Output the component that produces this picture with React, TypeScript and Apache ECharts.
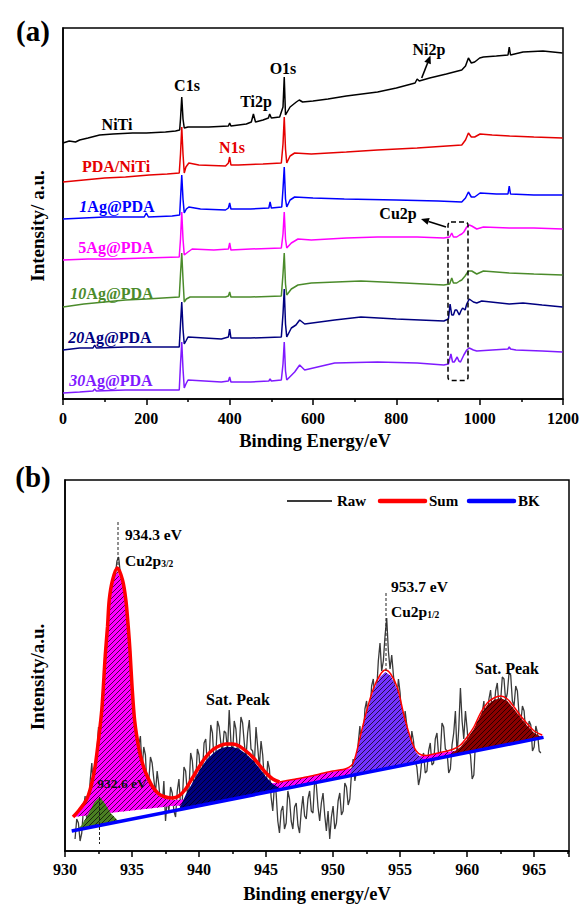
import React, { useEffect, useRef } from 'react';
import * as echarts from 'echarts';

const FONT = "'Liberation Serif', 'Times New Roman', Times, serif";

// ---------------- Panel (a): XPS survey spectra [binding energy (eV), offset intensity (a.u.)]
const surveyNames = ['NiTi', 'PDA/NiTi', '1Ag@PDA', '5Ag@PDA', '10Ag@PDA', '20Ag@PDA', '30Ag@PDA'];
const surveyColors = ['#000000', '#E50000', '#0000FF', '#FF00FF', '#4B8B2B', '#000080', '#7F1AFF'];

const spectrumNiTi = [[0,256],[15,258],[30,257],[40,259],[60,261],[88,264],[120,265],[167,266],[200,266],[246,267],[270,268],[280,269],[282,280],[285,302],[288,280],[291,271],[300,272],[350,272],[397,273],[400,276],[403,273],[440,275],[452,277],[457,285],[462,277],[480,279],[493,281],[496,285],[500,281],[520,282],[528,292],[531,322],[534,284],[545,292],[560,297],[567,299],[575,297],[600,298],[636,300],[680,303],[755,307],[800,311],[845,316],[850,320],[855,318],[880,321],[920,325],[957,329],[966,333],[973,341],[980,336],[988,337],[1000,341],[1009,342],[1040,343],[1068,344],[1071,352],[1074,344],[1104,347],[1152,348],[1199,346]];
const spectrumPDA = [[0,217],[50,219],[100,221],[150,222],[207,224],[250,225],[279,226],[282,245],[285,272],[288,245],[291,226],[295,232],[302,236],[326,234],[390,233],[397,236],[400,242],[403,234],[421,234],[480,235],[524,236],[528,255],[531,282],[534,250],[537,236],[545,243],[556,246],[596,245],[680,247],[755,249],[850,251],[957,254],[966,259],[973,266],[980,262],[988,262],[1001,265],[1030,264],[1072,263],[1130,262],[1199,261]];
const spectrum1Ag = [[0,180],[50,181],[100,182],[150,182],[195,182],[200,186],[205,182],[262,183],[280,184],[282,200],[285,224],[288,200],[291,186],[296,190],[302,192],[330,190],[390,189],[397,191],[400,196],[403,190],[450,190],[494,191],[497,197],[500,191],[525,192],[528,210],[531,232],[534,200],[537,192],[545,199],[556,202],[600,201],[675,200],[800,199],[900,198],[957,197],[966,201],[973,207],[980,202],[988,202],[1001,206],[1040,205],[1068,205],[1071,213],[1074,205],[1130,204],[1199,204]];
const spectrum5Ag = [[0,139],[60,140],[120,140],[200,141],[279,142],[282,160],[285,187],[288,160],[291,144],[300,147],[310,150],[362,149],[397,150],[400,156],[403,149],[450,150],[524,151],[528,165],[531,187],[534,160],[537,151],[548,156],[564,160],[596,159],[680,161],[755,162],[850,162],[914,161],[928,162],[933,166],[937,162],[945,162],[952,164],[957,165],[962,167],[969,172],[975,174],[981,173],[993,170],[1009,172],[1071,171],[1130,171],[1199,170]];
const spectrum10Ag = [[0,92],[50,95],[100,97],[150,99],[200,100],[279,102],[282,125],[285,146],[288,120],[291,97],[296,100],[305,102],[390,102],[397,103],[400,107],[403,102],[450,102],[524,103],[528,125],[531,146],[534,115],[537,104],[548,110],[564,114],[596,116],[715,118],[820,116],[914,114],[928,115],[933,121],[937,116],[945,116],[952,118],[957,119],[965,123],[973,128],[981,128],[993,125],[1009,128],[1071,126],[1130,125],[1199,124]];
const spectrum20Ag = [[0,49],[40,51],[72,51],[76,54],[80,51],[150,52],[279,52],[282,75],[285,97],[288,70],[291,55],[295,58],[300,62],[380,60],[397,62],[400,70],[403,61],[450,61],[524,62],[528,85],[531,110],[534,75],[537,62],[548,71],[559,74],[568,79],[580,75],[652,79],[715,82],[800,80],[914,78],[925,80],[929,95],[933,84],[937,84],[941,89],[945,89],[951,84],[955,88],[959,91],[965,89],[969,95],[975,100],[985,97],[993,96],[1005,98],[1071,95],[1104,96],[1150,94],[1199,92]];
const spectrum30Ag = [[0,6],[40,7],[72,8],[76,10],[80,8],[150,9],[279,9],[282,35],[285,57],[288,30],[291,11],[295,15],[300,19],[380,17],[397,18],[400,22],[403,17],[450,17],[494,18],[497,20],[500,18],[524,19],[528,35],[531,57],[534,28],[537,19],[556,27],[568,34],[580,29],[652,36],[755,37],[850,36],[914,34],[925,35],[931,45],[935,37],[939,37],[946,42],[950,38],[954,37],[962,44],[969,49],[975,51],[985,49],[993,48],[1030,49],[1068,50],[1071,52],[1074,50],[1087,49],[1150,48],[1199,47]];
const surveySpectra = [spectrumNiTi, spectrumPDA, spectrum1Ag, spectrum5Ag, spectrum10Ag, spectrum20Ag, spectrum30Ag];
const surveyTicks = [0, 200, 400, 600, 800, 1000, 1200];

// ---------------- Panel (b): Cu2p high-resolution spectrum
const rawStart = 930.75;
const rawStep = 0.125;
const rawValues = [
  12, 32,
  28, 10, 18, 42, 55, 30, 40, 70,
  88, 60, 70, 98, 124, 92, 105, 140,
  175, 160, 210, 232, 248, 262, 275, 290,
  294, 278, 270, 252, 240, 222, 205, 185,
  158, 132, 120, 96, 106, 115, 82, 104,
  96, 62, 70, 94, 88, 72, 58, 80,
  66, 48, 44, 70, 30, 52, 40, 64,
  58, 40, 34, 60, 72, 44, 50, 84,
  80, 58, 62, 98, 90, 66, 70, 102,
  96, 72, 78, 108, 112, 84, 92, 126,
  118, 88, 95, 130, 124, 108, 100, 120,
  118, 100, 141, 110, 96, 130, 122, 98,
  104, 134, 128, 108, 92, 118, 131, 102,
  100, 86, 124, 104, 84, 110, 96, 70,
  62, 90, 82, 54, 40, 66, 58, 30,
  18, 40, 45, 22, 28, 60, 52, 30,
  22, 44, 48, 26, 18, 40, 55, 35,
  32, 52, 60, 40, 38, 70, 66, 44,
  30, 48, 58, 36, 20, 40, 12, 34,
  45, 22, 28, 50, 58, 36, 40, 68,
  64, 46, 52, 78, 92, 70, 80, 108,
  125, 100, 110, 142, 150, 128, 138, 165,
  172, 150, 160, 190, 208, 180, 190, 215,
  233, 200, 182, 196, 176, 160, 150, 172,
  158, 130, 118, 140, 126, 104, 96, 120,
  110, 90, 84, 66, 74, 92, 98, 78,
  80, 100, 108, 86, 88, 112, 118, 95,
  96, 128, 124, 102, 100, 78, 82, 106,
  118, 140, 96, 122, 163, 130, 112, 140,
  122, 100, 96, 72, 76, 110, 130, 104,
  112, 138, 150, 122, 128, 152, 161, 138,
  140, 160, 168, 145, 150, 174, 172, 150,
  158, 178, 176, 150, 145, 165, 160, 136,
  128, 145, 140, 118, 112, 130, 126, 100,
  104, 125, 118, 100, 98,
];
const background = [[930.5, 20], [965.7, 113.6]];
const sumLeft = [[930.6,34],[931.0,40],[931.5,49],[931.75,56],[932.0,68],[932.25,85],[932.5,111],[932.75,142],[933.0,195],[933.17,224],[933.3,251],[933.55,271],[933.9,283],[934.29,271],[934.54,251],[934.72,224],[934.85,200],[935.0,165],[935.2,130],[935.5,103],[935.75,89],[936.0,79],[936.5,65],[937.0,57],[937.5,54],[938.0,53],[938.5,55],[939.0,62],[939.5,73],[940.0,84],[940.5,94],[941.0,101],[941.5,105],[942.0,107],[942.5,107],[943.0,105],[943.5,100],[944.0,94],[944.5,86],[945.0,78],[945.5,72],[946.0,69]];
const sumRight = [[946.0,69],[947,71.5],[948,74],[949,77],[950,80],[951,82.5],[951.5,88],[952.0,113],[952.5,140],[953.0,162],[953.5,176],[953.9,181],[954.3,177],[954.8,163],[955.3,135],[955.8,112],[956.2,100],[956.6,96],[957.0,95.5],[957.5,97],[958.0,98.5],[958.5,100],[959.0,102],[959.5,106],[960.0,114],[960.5,124],[961.0,138],[961.5,148],[962.0,153],[962.5,155],[963.0,152],[963.5,144],[964.0,135],[964.5,127],[965.0,120],[965.6,116]];

const cu32Top = [[930.6,34],[931.0,40],[931.5,47],[932.0,62],[932.5,100],[932.75,132],[933.0,188],[933.17,218],[933.3,246],[933.55,267],[933.9,280],[934.29,268],[934.54,248],[934.72,221],[934.85,197],[935.0,162],[935.2,128],[935.5,101],[935.75,87],[936.0,77],[936.5,63],[937.0,55],[937.5,52],[938.0,51],[939.0,51.5],[940.0,54],[946.0,69],[951.0,82],[956.0,94],[958.0,98],[962.0,106],[965.6,115.5]];
const cu32Base = [[965.6,113.4],[940.5,46.6],[938.0,45],[934.0,39],[930.6,34]];
const cu0Top = [[930.7,20.5],[931.2,25],[931.7,36],[932.2,49],[932.6,54],[933.0,47],[933.4,38],[933.9,31],[934.3,30.1]];
const cu0Base = [[934.3,30.1],[930.7,20.5]];
const sat1Top = [[938.5,41.3],[939.0,56],[939.5,68],[940.0,80],[940.5,90],[941.0,97],[941.5,102],[942.0,104],[942.5,104],[943.0,102],[943.5,97],[944.0,91],[944.5,83],[945.0,74],[945.5,67],[946.0,63],[946.5,62.6]];
const sat1Base = [[946.5,62.6],[938.5,41.3]];
const cu12Top = [[951.2,75.1],[951.5,86],[952.0,111],[952.5,138],[953.0,160],[953.5,174],[953.9,179],[954.3,175],[954.8,161],[955.3,133],[955.8,110],[956.2,98],[956.6,93],[957.0,90.5]];
const cu12Base = [[957.0,90.5],[951.2,75.1]];
const sat2Top = [[958.5,94.5],[959.0,99],[959.5,104],[960.0,112],[960.5,122],[961.0,136],[961.5,146],[962.0,151],[962.5,153],[963.0,150],[963.5,142],[964.0,133],[964.5,125],[965.0,118],[965.6,113.4]];
const sat2Base = [[965.6,113.4],[958.5,94.5]];
const componentNames = ['Cu2p3/2', '932.6 eV', 'Sat. Peak 1', 'Cu2p1/2', 'Sat. Peak 2'];
const componentColors = ['#FF00FF', '#4A7F22', '#000080', '#7433FF', '#8B0000'];
const componentTops = [cu32Top, cu0Top, sat1Top, cu12Top, sat2Top];
const componentBases = [cu32Base, cu0Base, sat1Base, cu12Base, sat2Base];
const cuTicks = [930, 935, 940, 945, 950, 955, 960, 965];

function makeHatch(): string {
  const c = document.createElement('canvas');
  c.width = 5;
  c.height = 5;
  const ctx = c.getContext('2d');
  if (ctx) {
    ctx.strokeStyle = 'rgba(0,0,0,0.7)';
    ctx.lineWidth = 1;
    ctx.beginPath();
    ctx.moveTo(0, 5); ctx.lineTo(5, 0);
    ctx.moveTo(-1, 1); ctx.lineTo(1, -1);
    ctx.moveTo(4, 6); ctx.lineTo(6, 4);
    ctx.stroke();
  }
  return c.toDataURL();
}

function arrow(x1: number, y1: number, x2: number, y2: number, headLen: number, headW: number) {
  const dx = x2 - x1, dy = y2 - y1;
  const L = Math.sqrt(dx * dx + dy * dy);
  const ux = dx / L, uy = dy / L;
  const bx = x2 - ux * headLen, by = y2 - uy * headLen;
  const px = -uy, py = ux;
  return [
    { type: 'line', z: 100, shape: { x1, y1, x2: bx, y2: by }, style: { stroke: '#000', lineWidth: 1.6 } },
    { type: 'polygon', z: 100, shape: { points: [[x2, y2], [bx + px * headW, by + py * headW], [bx - px * headW, by - py * headW]] }, style: { fill: '#000' } },
  ];
}

function txt(x: number, y: number, text: string, color: string, size: number, extra: any = {}) {
  return {
    type: 'text', x, y, z: 100, ...extra,
    style: { text, fill: color, fontFamily: FONT, fontWeight: 'bold', fontSize: size, align: extra.align || 'center', verticalAlign: 'middle' },
  };
}

function sampleLabel(x: number, y: number, num: string, italic: boolean, color: string) {
  const base = { fontFamily: FONT, fontWeight: 'bold', fontSize: 16, fill: color };
  return {
    type: 'text', x, y, z: 100,
    style: {
      text: `{i|${num}}{n|Ag@PDA}`,
      align: 'center', verticalAlign: 'middle',
      rich: { i: { ...base, fontStyle: italic ? 'italic' : 'normal' }, n: { ...base } },
    },
  };
}

function subLabel(x: number, y: number, main: string, sub: string) {
  const base = { fontFamily: FONT, fontWeight: 'bold', fill: '#000' };
  return {
    type: 'text', x, y, z: 100,
    style: {
      text: `{m|${main}}{s|${sub}}`,
      align: 'left', verticalAlign: 'middle',
      rich: { m: { ...base, fontSize: 15.5, lineHeight: 18 }, s: { ...base, fontSize: 9.5, lineHeight: 9, verticalAlign: 'bottom' } },
    },
  };
}

export default function App() {
  const ref = useRef<HTMLDivElement>(null);
  useEffect(() => {
    if (!ref.current) return;
    const chart = echarts.init(ref.current, null, { renderer: 'svg' });
    const hatch = { image: makeHatch(), repeat: 'repeat', imageWidth: 5, imageHeight: 5 };

    const axisCommon = (min: number, max: number, interval: number, margin: number, gridIndex: number, ticks: number[]) => ({
      type: 'value', gridIndex, min, max, interval,
      axisLine: { show: true, onZero: false, lineStyle: { color: '#000', width: 1.5 } },
      axisTick: { show: true, inside: false, length: 6, lineStyle: { color: '#000', width: 1.5 } },
      minorTick: { show: true, splitNumber: 2, length: 3, lineStyle: { color: '#000', width: 1.5 } },
      splitLine: { show: false },
      minorSplitLine: { show: false },
      axisLabel: {
        margin, color: '#000', fontFamily: FONT, fontWeight: 'bold', fontSize: 16,
        showMinLabel: true, showMaxLabel: true,
        formatter: (v: number) => (ticks.indexOf(v) >= 0 ? String(v) : ''),
      },
    });
    const yCommon = (gridIndex: number) => ({
      type: 'value', gridIndex, min: 0, max: 371,
      axisLine: { show: true, lineStyle: { color: '#000', width: 1.5 } },
      axisTick: { show: false }, axisLabel: { show: false }, splitLine: { show: false },
    });

    const rawData = rawValues.map((v, i) => [rawStart + i * rawStep, v]);

    const series: any[] = [];
    surveySpectra.forEach((d, i) => {
      series.push({
        name: surveyNames[i], type: 'line', xAxisIndex: 0, yAxisIndex: 0, data: d,
        symbol: 'none', showSymbol: false, silent: true, z: 2,
        lineStyle: { color: surveyColors[i], width: 1.5 },
      });
    });
    series.push({
      name: 'Raw', type: 'line', xAxisIndex: 1, yAxisIndex: 1, data: rawData,
      symbol: 'none', showSymbol: false, silent: true, z: 1,
      lineStyle: { color: '#3a3a3a', width: 1.3 },
    });
    componentTops.forEach((top, i) => {
      const base = componentBases[i];
      const color = componentColors[i];
      series.push({
        name: componentNames[i], type: 'custom', xAxisIndex: 1, yAxisIndex: 1, z: 2, silent: true,
        data: [top[0]],
        renderItem: (params: any, api: any) => {
          const pts = top.concat(base).map((p) => api.coord(p));
          return {
            type: 'group',
            children: [
              { type: 'polygon', shape: { points: pts }, style: { fill: color } },
              { type: 'polygon', shape: { points: pts }, style: { fill: hatch } },
            ],
          };
        },
      });
    });
    series.push({
      name: 'BK', type: 'line', xAxisIndex: 1, yAxisIndex: 1, data: background,
      symbol: 'none', showSymbol: false, silent: true, z: 3,
      lineStyle: { color: '#0000FF', width: 3.5 },
    });
    series.push({
      name: 'Sum', type: 'line', xAxisIndex: 1, yAxisIndex: 1, data: sumLeft, smooth: 0.3,
      symbol: 'none', showSymbol: false, silent: true, z: 4,
      lineStyle: { color: '#FF0000', width: 3.5 },
    });
    series.push({
      name: 'Sum ', type: 'line', xAxisIndex: 1, yAxisIndex: 1, data: sumRight, smooth: 0.3,
      symbol: 'none', showSymbol: false, silent: true, z: 4,
      lineStyle: { color: '#FF0000', width: 1.5 },
    });

    const graphic: any[] = [
      // panel letters
      txt(33, 31, '(a)', '#000', 29),
      txt(33, 477, '(b)', '#000', 29),
      // axis titles
      txt(315, 441, 'Binding Energy/eV', '#000', 18.5),
      txt(317, 894, 'Binding energy/eV', '#000', 18.5),
      txt(37, 226, 'Intensity/ a.u.', '#000', 19, { rotation: Math.PI / 2 }),
      txt(37, 677, 'Intensity/a.u.', '#000', 19, { rotation: Math.PI / 2 }),
      // panel (a) peak labels
      txt(187, 85, 'C1s', '#000', 16),
      txt(256, 101, 'Ti2p', '#000', 16),
      txt(283, 68, 'O1s', '#000', 16),
      txt(232, 147, 'N1s', surveyColors[1], 16),
      txt(429, 49, 'Ni2p', '#000', 16),
      txt(398, 213, 'Cu2p', '#000', 16),
      // panel (a) sample labels
      txt(117, 124, surveyNames[0], surveyColors[0], 16),
      txt(116, 166, surveyNames[1], surveyColors[1], 16),
      sampleLabel(117, 206, '1', true, surveyColors[2]),
      sampleLabel(116, 247, '5', false, surveyColors[3]),
      sampleLabel(112, 293, '10', true, surveyColors[4]),
      sampleLabel(110, 337, '20', true, surveyColors[5]),
      sampleLabel(111, 380, '30', true, surveyColors[6]),
      // Cu2p dashed box
      { type: 'rect', z: 100, shape: { x: 448, y: 222, width: 20, height: 158.5, r: 3 }, style: { fill: 'none', stroke: '#000', lineWidth: 1.5, lineDash: [5, 3] } },
      ...arrow(446, 227, 421, 219, 8, 3.5),
      ...arrow(421.7, 78, 430.5, 55.5, 8, 3.5),
      // panel (b) legend
      { type: 'line', z: 100, shape: { x1: 287, y1: 501, x2: 332, y2: 501 }, style: { stroke: '#3a3a3a', lineWidth: 2 } },
      txt(337, 501, 'Raw', '#000', 15, { align: 'left' }),
      { type: 'line', z: 100, shape: { x1: 380, y1: 501, x2: 425, y2: 501 }, style: { stroke: '#FF0000', lineWidth: 4.5, lineCap: 'round' } },
      txt(429, 501, 'Sum', '#000', 15, { align: 'left' }),
      { type: 'line', z: 100, shape: { x1: 469, y1: 501, x2: 514, y2: 501 }, style: { stroke: '#0000FF', lineWidth: 4.5, lineCap: 'round' } },
      txt(518, 501, 'BK', '#000', 15, { align: 'left' }),
      // panel (b) annotations
      { type: 'line', z: 100, shape: { x1: 118, y1: 522, x2: 118, y2: 566 }, style: { stroke: '#222', lineWidth: 1, lineDash: [3, 2] } },
      txt(125, 534, '934.3 eV', '#000', 15.5, { align: 'left' }),
      subLabel(125, 560, 'Cu2p', '3/2'),
      { type: 'line', z: 100, shape: { x1: 386, y1: 593, x2: 386, y2: 672 }, style: { stroke: '#222', lineWidth: 1, lineDash: [3, 2] } },
      txt(391, 586, '953.7 eV', '#000', 15.5, { align: 'left' }),
      subLabel(391, 611, 'Cu2p', '1/2'),
      { type: 'line', z: 100, shape: { x1: 99.5, y1: 797, x2: 99.5, y2: 844 }, style: { stroke: '#222', lineWidth: 1, lineDash: [3, 2] } },
      txt(122, 783, '932.6 eV', '#111', 13.5),
      txt(238, 699, 'Sat. Peak', '#000', 16),
      txt(507, 668, 'Sat. Peak', '#000', 16),
    ];

    chart.setOption({
      animation: false,
      backgroundColor: '#fff',
      textStyle: { fontFamily: FONT },
      grid: [
        { left: 63, top: 28, width: 504, height: 371, show: true, borderColor: '#000', borderWidth: 1.5, backgroundColor: 'transparent' },
        { left: 65, top: 480, width: 504, height: 371, show: true, borderColor: '#000', borderWidth: 1.5, backgroundColor: 'transparent' },
      ],
      xAxis: [
        axisCommon(surveyTicks[0], surveyTicks[surveyTicks.length - 1], 200, 11, 0, surveyTicks),
        axisCommon(cuTicks[0], 967.6, 5, 10, 1, cuTicks),
      ],
      yAxis: [yCommon(0), yCommon(1)],
      series,
      graphic,
    });
    return () => chart.dispose();
  }, []);
  return (
    <div
      ref={ref}
      style={{ position: 'fixed', left: 0, top: 0, width: 582, height: 905, background: '#fff' }}
    />
  );
}
